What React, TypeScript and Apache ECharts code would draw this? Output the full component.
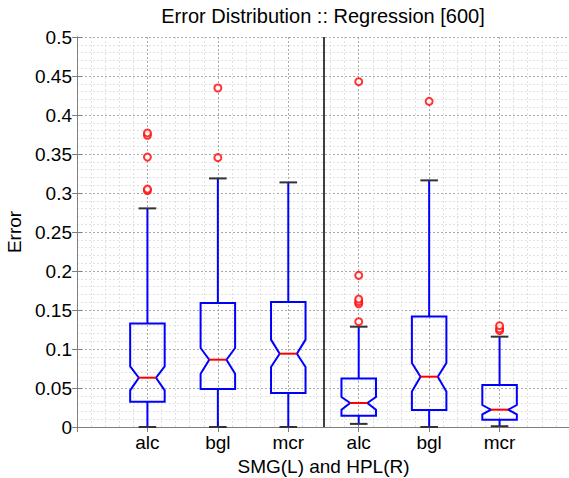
import React, { useEffect, useRef } from "react";
import * as echarts from "echarts";

const categories = ["alc", "bgl", "mcr", "alc", "bgl", "mcr"];
const positions = [1, 2, 3, 4, 5, 6];
const lowerWhisker = [0, 0, 0, 0.004, 0, 0.001];
const q1 = [0.0324, 0.0487, 0.0436, 0.0145, 0.0218, 0.0094];
const notchLow = [0.047, 0.0683, 0.077, 0.0222, 0.0456, 0.0162];
const median = [0.0632, 0.0863, 0.094, 0.0308, 0.0645, 0.0222];
const notchHigh = [0.0777, 0.1013, 0.112, 0.0385, 0.082, 0.0282];
const q3 = [0.1328, 0.159, 0.1603, 0.0623, 0.1418, 0.0538];
const upperWhisker = [0.2803, 0.3187, 0.3136, 0.1286, 0.3162, 0.1158];
const outliers: number[][] = [
  [0.303, 0.305, 0.346, 0.374, 0.377],
  [0.3453, 0.4346],
  [],
  [0.135, 0.158, 0.1607, 0.164, 0.1944, 0.4427],
  [0.4175],
  [0.1235, 0.126, 0.1299],
];
const dividerPosition = 3.5;
const titleText = "Error Distribution :: Regression [600]";
const xName = "SMG(L) and HPL(R)";
const yName = "Error";

const FONT = "'Liberation Sans', Arial, Helvetica, sans-serif";

export default function App() {
  const ref = useRef<HTMLDivElement>(null);
  useEffect(() => {
    if (!ref.current) return;
    const chart = echarts.init(ref.current, undefined, { renderer: "svg" });
    const boxData = positions.map((p, i) => [
      p,
      lowerWhisker[i],
      q1[i],
      notchLow[i],
      median[i],
      notchHigh[i],
      q3[i],
      upperWhisker[i],
    ]);
    const outlierData: number[][] = [];
    outliers.forEach((arr, i) => arr.forEach((v) => outlierData.push([positions[i], v])));

    const renderItem = (params: any, api: any) => {
      const x = api.value(0);
      const lw = api.value(1), a = api.value(2), nl = api.value(3), md = api.value(4);
      const nh = api.value(5), b = api.value(6), uw = api.value(7);
      const halfW = 0.245, notchW = 0.1225, capW = 0.125;
      const P = (xx: number, yy: number) => api.coord([xx, yy]);
      const pts = [
        P(x - halfW, b), P(x + halfW, b), P(x + halfW, nh), P(x + notchW, md),
        P(x + halfW, nl), P(x + halfW, a), P(x - halfW, a), P(x - halfW, nl),
        P(x - notchW, md), P(x - halfW, nh),
      ];
      const blue = { stroke: "#0000ff", lineWidth: 2, fill: "none" };
      const line = (p1: number[], p2: number[], style: any) => ({
        type: "line",
        shape: { x1: p1[0], y1: p1[1], x2: p2[0], y2: p2[1] },
        style,
      });
      return {
        type: "group",
        children: [
          line(P(x, b), P(x, uw), blue),
          line(P(x, a), P(x, lw), blue),
          line(P(x - capW, uw), P(x + capW, uw), { stroke: "#333", lineWidth: 2 }),
          line(P(x - capW, lw), P(x + capW, lw), { stroke: "#333", lineWidth: 2 }),
          { type: "polygon", shape: { points: pts }, style: { stroke: "#0000ff", lineWidth: 2, fill: "none" } },
          line(P(x - notchW, md), P(x + notchW, md), { stroke: "#ff0000", lineWidth: 2 }),
        ],
      };
    };

    const axisColor = "#7f7f7f";
    chart.setOption({
      animation: false,
      backgroundColor: "#ffffff",
      textStyle: { fontFamily: FONT },
      graphic: [
        {
          type: "text",
          x: 323,
          y: 16,
          style: {
            text: titleText,
            fontFamily: FONT,
            fontSize: 20,
            fill: "#000",
            align: "center",
            verticalAlign: "middle",
          },
        },
      ],
      grid: { left: 77, right: -1, top: 37, bottom: 51, outerBoundsMode: "none", containLabel: false },
      xAxis: [
        {
          type: "value",
          min: 0,
          max: 7,
          interval: 1,
          position: "bottom",
          name: xName,
          nameLocation: "middle",
          nameGap: 27,
          nameTextStyle: { fontFamily: FONT, fontSize: 19, color: "#000" },
          axisLine: { show: true, lineStyle: { color: axisColor, width: 1 } },
          axisTick: { show: true, inside: true, length: 5, lineStyle: { color: axisColor } },
          axisLabel: {
            fontFamily: FONT,
            fontSize: 19,
            color: "#000",
            margin: 6,
            formatter: (v: number) => {
              const idx = positions.indexOf(Math.round(v));
              return Math.abs(v - Math.round(v)) < 1e-6 && idx >= 0 ? categories[idx] : "";
            },
          },
          splitLine: { show: true, lineStyle: { color: "#a8a8a8", type: [2, 2], width: 1 } },
          minorTick: { show: false, splitNumber: 5 },
          minorSplitLine: { show: true, lineStyle: { color: "#e2e2e2", type: [2, 2], width: 1 } },
        },
        {
          type: "value",
          min: 0,
          max: 7,
          interval: 1,
          position: "top",
          axisLine: { show: true, lineStyle: { color: axisColor, width: 1 } },
          axisTick: { show: true, inside: true, length: 5, lineStyle: { color: axisColor } },
          axisLabel: { show: false },
          splitLine: { show: false },
        },
      ],
      yAxis: [
        {
          type: "value",
          min: 0,
          max: 0.5,
          interval: 0.05,
          position: "left",
          name: yName,
          nameLocation: "middle",
          nameGap: 52,
          nameTextStyle: { fontFamily: FONT, fontSize: 19, color: "#000" },
          axisLine: { show: true, lineStyle: { color: axisColor, width: 1 } },
          axisTick: { show: true, inside: true, length: 5, lineStyle: { color: axisColor } },
          axisLabel: { fontFamily: FONT, fontSize: 19, color: "#000", margin: 5 },
          splitLine: { show: true, lineStyle: { color: "#a8a8a8", type: [2, 2], width: 1 } },
          minorTick: { show: false, splitNumber: 5 },
          minorSplitLine: { show: true, lineStyle: { color: "#e2e2e2", type: [2, 2], width: 1 } },
        },
        {
          type: "value",
          min: 0,
          max: 0.5,
          interval: 0.05,
          position: "right",
          axisLine: { show: true, lineStyle: { color: axisColor, width: 1 } },
          axisTick: { show: true, inside: true, length: 5, lineStyle: { color: axisColor } },
          axisLabel: { show: false },
          splitLine: { show: false },
        },
      ],
      series: [
        {
          type: "custom",
          renderItem,
          data: boxData,
          encode: { x: 0, y: [1, 2, 3, 4, 5, 6, 7] },
          z: 3,
        },
        {
          type: "scatter",
          data: outlierData,
          symbol: "emptyCircle",
          symbolSize: 7,
          itemStyle: { color: "#ff0000", borderColor: "#ff0000", borderWidth: 1.2 },
          z: 4,
          markLine: {
            silent: true,
            symbol: "none",
            label: { show: false },
            lineStyle: { color: "#000", width: 1.5, type: "solid" },
            data: [{ xAxis: dividerPosition }],
          },
        },
      ],
    });
    return () => chart.dispose();
  }, []);
  return (
    <div
      ref={ref}
      style={{ position: "fixed", left: 0, top: 0, width: 569, height: 478, background: "#fff" }}
    />
  );
}
